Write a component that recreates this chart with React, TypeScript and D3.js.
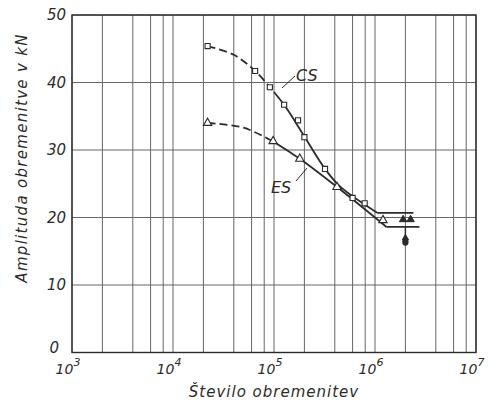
import React from 'react';
import * as d3 from 'd3';

// measured points, CS (squares) and ES (triangles)
const csN = [2.2e4, 6.5e4, 9.1e4, 1.26e5, 1.73e5, 2.0e5, 3.2e5, 6.0e5, 7.9e5];
const csA = [45.4, 41.7, 39.3, 36.7, 34.4, 31.9, 27.2, 22.9, 22.1];
const esN = [2.2e4, 9.8e4, 1.8e5, 4.2e5, 1.2e6];
const esA = [34.0, 31.3, 28.7, 24.5, 19.6];

// fitted curves: dashed (estimated) part and solid part
const csDashN = [2.2e4, 4.0e4, 6.5e4, 1.0e5];
const csDashA = [45.4, 44.1, 41.7, 38.6];
const csSolidN = [1.0e5, 1.3e5, 2.0e5, 3.2e5, 4.5e5, 1.05e6, 2.4e6];
const csSolidA = [38.6, 36.4, 32.0, 27.2, 24.6, 20.7, 20.7];
const esDashN = [2.2e4, 5.0e4, 1.0e5];
const esDashA = [34.0, 33.3, 31.2];
const esSolidN = [1.0e5, 1.8e5, 4.3e5, 1.3e6, 2.75e6];
const esSolidA = [31.2, 28.7, 24.4, 18.6, 18.6];

// run-outs (filled) at 2·10^6
const runN = [1.9e6, 2.25e6];
const runA = [19.7, 19.7];
const arrowN = 2.0e6;
const arrowA = 16.7;

const yTicks = [0, 10, 20, 30, 40, 50];
const decades = [3, 4, 5, 6, 7];
const gridMult = [1, 2, 4, 6, 8];

const W = 488;
const H = 406;
const ink = '#2b2b2b';
const font = "'DejaVu Sans', sans-serif";

const x = d3.scaleLog().domain([1e3, 1e7]).range([72, 476]);
const y = d3.scaleLinear().domain([0, 50]).range([352.5, 15]);

const zip = (ns: number[], as: number[]) => ns.map((n, i) => [n, as[i]] as [number, number]);

const line = d3.line<[number, number]>()
  .x(d => x(d[0]))
  .y(d => y(d[1]))
  .curve(d3.curveCatmullRom.alpha(0.5));

const straight = d3.line<[number, number]>()
  .x(d => x(d[0]))
  .y(d => y(d[1]));

export default function App() {
  const gridX: number[] = [];
  decades.slice(0, -1).forEach(p => gridMult.forEach(m => gridX.push(m * Math.pow(10, p))));
  gridX.push(1e7);

  const tri = d3.symbol().type(d3.symbolTriangle).size(30)();
  const smallTri = d3.symbol().type(d3.symbolTriangle).size(24)();
  const sq = d3.symbol().type(d3.symbolSquare).size(26)();

  return (
    <svg width={W} height={H} style={{ position: 'absolute', left: 0, top: 0, background: '#fff' }}>
      {/* grid */}
      {gridX.map((v, i) => (
        <line key={'gx' + i} x1={x(v)} x2={x(v)} y1={y(50)} y2={y(0)} stroke="#666" strokeWidth={1} />
      ))}
      {yTicks.map(t => (
        <line key={'gy' + t} x1={x(1e3)} x2={x(1e7)} y1={y(t)} y2={y(t)} stroke="#666" strokeWidth={1} />
      ))}
      <rect x={x(1e3)} y={y(50)} width={x(1e7) - x(1e3)} height={y(0) - y(50)} fill="none" stroke={ink} strokeWidth={1.4} />

      {/* y tick labels */}
      {yTicks.map(t => (
        <text key={'yl' + t} x={t === 0 ? 59 : 66} y={y(t) + (t === 0 ? 0 : 5)} textAnchor="end"
          fontFamily={font} fontStyle="italic" fontSize={15} fill={ink}>{t}</text>
      ))}
      {/* x tick labels */}
      {decades.map(p => (
        <text key={'xl' + p} x={x(Math.pow(10, p)) - 4} y={374} textAnchor="middle"
          fontFamily={font} fontStyle="italic" fontSize={14} fill={ink}>
          10<tspan dy={-8} fontSize={11}>{p}</tspan>
        </text>
      ))}

      {/* axis titles */}
      <text x={274} y={397} textAnchor="middle" fontFamily={font} fontStyle="italic" fontSize={15} fill={ink}
        letterSpacing={1}>Število obremenitev</text>
      <text transform="translate(27,158) rotate(-90)" textAnchor="middle" fontFamily={font} fontStyle="italic"
        fontSize={15} fill={ink} letterSpacing={1.3}>Amplituda obremenitve v kN</text>

      {/* curves */}
      <path d={line(zip(csDashN, csDashA)) || ''} fill="none" stroke={ink} strokeWidth={1.8} strokeDasharray="8,4" />
      <path d={line(zip(esDashN, esDashA)) || ''} fill="none" stroke={ink} strokeWidth={1.8} strokeDasharray="8,4" />
      <path d={line(zip(csSolidN.slice(0, -1), csSolidA.slice(0, -1))) || ''} fill="none" stroke={ink} strokeWidth={1.8} />
      <path d={straight(zip(csSolidN.slice(-2), csSolidA.slice(-2))) || ''} fill="none" stroke={ink} strokeWidth={1.8} />
      <path d={line(zip(esSolidN.slice(0, -1), esSolidA.slice(0, -1))) || ''} fill="none" stroke={ink} strokeWidth={1.8} />
      <path d={straight(zip(esSolidN.slice(-2), esSolidA.slice(-2))) || ''} fill="none" stroke={ink} strokeWidth={1.8} />

      {/* markers */}
      {zip(csN, csA).map((d, i) => (
        <path key={'cs' + i} d={sq || ''} transform={`translate(${x(d[0])},${y(d[1])})`}
          fill="#fff" stroke={ink} strokeWidth={1.1} />
      ))}
      {zip(esN, esA).map((d, i) => (
        <path key={'es' + i} d={tri || ''} transform={`translate(${x(d[0])},${y(d[1])})`}
          fill="#fff" stroke={ink} strokeWidth={1.1} />
      ))}
      {zip(runN, runA).map((d, i) => (
        <path key={'ro' + i} d={smallTri || ''} transform={`translate(${x(d[0])},${y(d[1])})`} fill={ink} stroke={ink} />
      ))}
      <line x1={x(arrowN)} x2={x(arrowN)} y1={y(arrowA)} y2={y(esSolidA[esSolidA.length - 1])} stroke={ink} strokeWidth={1.4} />
      <path d={smallTri || ''} transform={`translate(${x(arrowN)},${y(arrowA) - 2})`} fill={ink} />
      <ellipse cx={x(arrowN)} cy={y(arrowA) + 2} rx={3.2} ry={4} fill={ink} />

      {/* labels */}
      <line x1={282} y1={88} x2={295} y2={76} stroke={ink} strokeWidth={1} />
      <text x={296} y={81} fontFamily={font} fontStyle="italic" fontSize={16} fill={ink}>CS</text>
      <line x1={296} y1={181} x2={307} y2={168} stroke={ink} strokeWidth={1} />
      <text x={271} y={193} fontFamily={font} fontStyle="italic" fontSize={16} fill={ink}>ES</text>
    </svg>
  );
}
